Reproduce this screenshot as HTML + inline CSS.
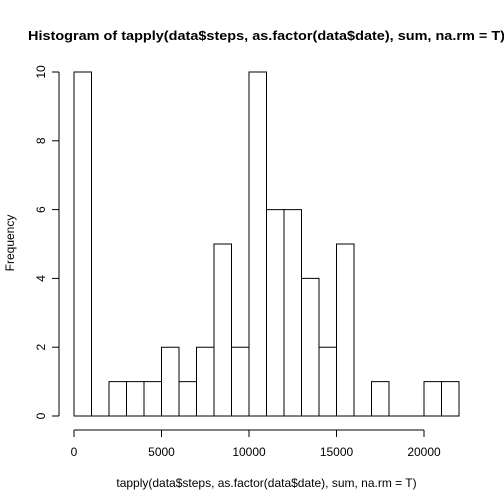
<!DOCTYPE html>
<html><head><meta charset="utf-8"><style>
html,body{margin:0;padding:0;background:#fff;}
svg{display:block;font-family:"Liberation Sans",Arial,sans-serif;}
</style></head><body>
<svg id="chart" width="504" height="504" viewBox="0 0 504 504">
<text x="266.5" y="40" text-anchor="middle" font-weight="bold" font-size="13" textLength="477" lengthAdjust="spacingAndGlyphs">Histogram of tapply(data$steps, as.factor(data$date), sum, na.rm = T)</text>
<text x="266.5" y="487" text-anchor="middle" font-size="12">tapply(data$steps, as.factor(data$date), sum, na.rm = T)</text>
<text x="0" y="0" transform="translate(14,243) rotate(-90)" text-anchor="middle" font-size="12">Frequency</text>
<g id="bars"></g>
<g id="axes"></g>
</svg>
<script>
const binStarts = [0,1000,2000,3000,4000,5000,6000,7000,8000,9000,10000,11000,12000,13000,14000,15000,16000,17000,18000,19000,20000,21000];
const counts = [10,0,1,1,1,2,1,2,5,2,10,6,6,4,2,5,0,1,0,0,1,1];
const binWidth = 1000;
const xTicks = [0,5000,10000,15000,20000];
const yTicks = [0,2,4,6,8,10];
const NS="http://www.w3.org/2000/svg";
function X(v){return 74 + v*0.0175;}
function Y(v){return 416 - v*34.4;}
const bars=document.getElementById('bars'), axes=document.getElementById('axes');
function mk(tag,attrs,parent){const e=document.createElementNS(NS,tag);for(const k in attrs)e.setAttribute(k,attrs[k]);parent.appendChild(e);return e;}
binStarts.forEach((b,i)=>{
  const x0=X(b), x1=X(b+binWidth), y0=Y(0), y1=Y(counts[i]);
  const r=mk('path',{d:`M${x0},${y0}L${x0},${y1}L${x1},${y1}L${x1},${y0}Z`,fill:'#fff',stroke:'#000','stroke-width':1},bars);
  
  
});
let l=mk('line',{x1:X(xTicks[0]),x2:X(xTicks[xTicks.length-1]),y1:430,y2:430,stroke:'#000'},axes);


xTicks.forEach(t=>{
  const tk=mk('line',{x1:X(t),x2:X(t),y1:430,y2:437,stroke:'#000'},axes);
  
  
  const tx=mk('text',{x:X(t),y:456,'text-anchor':'middle','font-size':12},axes);
  tx.textContent=t;
  
  
});
l=mk('line',{x1:59,x2:59,y1:Y(yTicks[0]),y2:Y(yTicks[yTicks.length-1]),stroke:'#000'},axes);


yTicks.forEach(t=>{
  const tk=mk('line',{x1:52,x2:59,y1:Y(t),y2:Y(t),stroke:'#000'},axes);
  
  
  const tx=mk('text',{x:0,y:0,transform:'translate(45,'+Y(t)+') rotate(-90)','text-anchor':'middle','font-size':12},axes);
  tx.textContent=t;
  
  
});
</script>
</body></html>
